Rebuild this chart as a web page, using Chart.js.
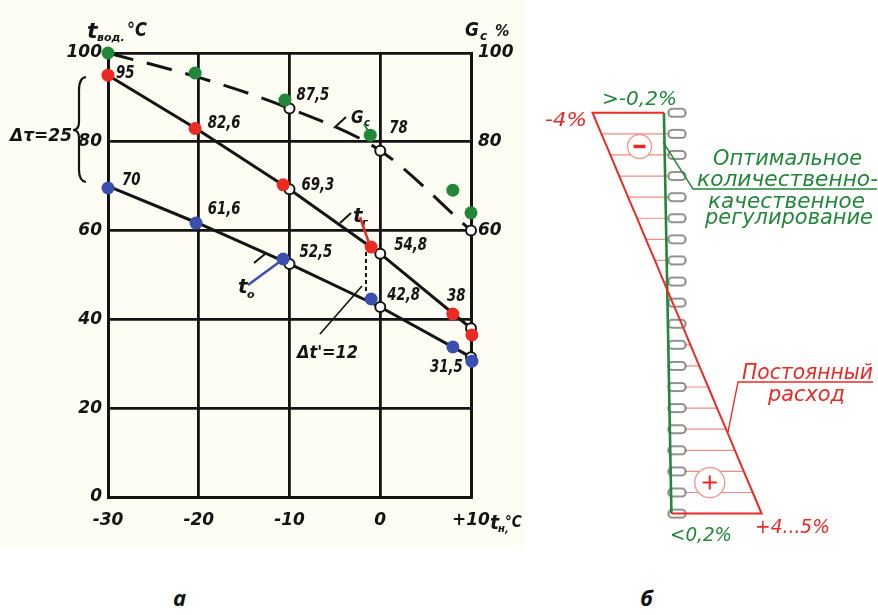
<!DOCTYPE html>
<html>
<head>
<meta charset="utf-8">
<script src="https://cdn.jsdelivr.net/npm/chart.js@4.4.0/dist/chart.umd.min.js"></script>
<style>
  body { margin: 0; background: #fff; width: 878px; height: 615px; position: relative; overflow: hidden; }
  #wrapA { position: absolute; left: 0; top: 0; width: 540px; height: 560px; }
  #bgA { position: absolute; left: 0; top: 0; width: 524px; height: 546px; background: #fdfdf4; }
  #wrapB { position: absolute; left: 540px; top: 60px; width: 338px; height: 500px; }
  .cap { position: absolute; top: 582px; font: italic bold 22px "Open Sans", "DejaVu Sans", sans-serif; color: #111; }
</style>
</head>
<body>
<div id="bgA"></div>
<div id="wrapA"><canvas id="chartA"></canvas></div>
<div id="wrapB"><canvas id="chartB"></canvas></div>
<div class="cap" style="left:173px">а</div>
<div class="cap" style="left:640px">б</div>

<script>
// ---- chart a: temperature graph ----
const outdoorTemps = [-30, -20, -10, 0, 10];
const xTickLabels = ['-30', '-20', '-10', '0', '+10'];
const leftTicks = [0, 20, 40, 60, 80, 100];
const rightTicks = [60, 80, 100];
const supplyTemp = [95, 82.6, 69.3, 54.8, 38];     // tг
const returnTemp = [70, 61.6, 52.5, 42.8, 31.5];   // tо
const flowRate = [100, 94.5, 87.5, 78, 60];        // Gc, %

// coloured markers
const redDotX = [-30, -20.4, -10.7, -1.0, 8.0, 10.1];
const redDotY = [95, 83.0, 70.3, 56.3, 41.2, 36.5];
const blueDotX = [-30, -20.3, -10.7, -1.0, 8.0, 10.1];
const blueDotY = [69.6, 61.7, 53.6, 44.6, 33.8, 30.6];
const greenDotX = [-30, -20.4, -10.5, -1.1, 8.0, 10.0];
const greenDotY = [100, 95.5, 89.4, 81.5, 69.1, 64.0];

// ---- chart б: deviation by floor, % ----
const floors = [1, 2, 3, 4, 5, 6, 7, 8, 9, 10, 11, 12, 13, 14, 15, 16, 17, 18, 19, 20];
const constFlowDev = [5.0, 4.53, 4.05, 3.58, 3.11, 2.63, 2.16, 1.68, 1.21, 0.74,
  0.26, -0.21, -0.68, -1.16, -1.63, -2.11, -2.58, -3.05, -3.53, -4.0];
const optimalFloors = [1, 20];
const optimalDev = [0.2, -0.2];

const INK = '#141414';
const RED = '#ec2a23';
const BLUE = '#3a4fae';
const GREEN = '#23873a';
const NUMFONT = 'italic bold 18px "DejaVu Sans", sans-serif';

function pts(xs, ys) { return xs.map((x, i) => ({ x: x, y: ys[i] })); }
function fmt(v) { return String(v).replace('.', ','); }

function drawText(ctx, text, x, y, o) {
  ctx.save();
  ctx.font = o.font;
  ctx.fillStyle = o.color || INK;
  ctx.textBaseline = o.baseline || 'alphabetic';
  ctx.textAlign = 'left';
  const w = ctx.measureText(text).width;
  const sx = o.width ? o.width / w : (o.sx || 1);
  ctx.translate(x, y);
  ctx.scale(sx, 1);
  ctx.fillText(text, 0, 0);
  ctx.restore();
}
function line(ctx, p, color, width, dash) {
  ctx.save();
  ctx.strokeStyle = color; ctx.lineWidth = width;
  ctx.setLineDash(dash || []);
  ctx.beginPath();
  ctx.moveTo(p[0], p[1]);
  for (let i = 2; i < p.length; i += 2) ctx.lineTo(p[i], p[i + 1]);
  ctx.stroke();
  ctx.restore();
}

const labelOffsets = [
  { s: supplyTemp, i: 0, dx: 8, dy: -2 },
  { s: supplyTemp, i: 1, dx: 9, dy: -7 },
  { s: supplyTemp, i: 2, dx: 12, dy: -4 },
  { s: supplyTemp, i: 3, dx: 14, dy: -8 },
  { s: supplyTemp, i: 4, dx: -24, dy: -32 },
  { s: returnTemp, i: 0, dx: 14, dy: -6 },
  { s: returnTemp, i: 1, dx: 9, dy: -14 },
  { s: returnTemp, i: 2, dx: 10, dy: -12 },
  { s: returnTemp, i: 3, dx: 7, dy: -12 },
  { s: returnTemp, i: 4, dx: -41, dy: 10 },
  { s: flowRate, i: 2, dx: 7, dy: -13 },
  { s: flowRate, i: 3, dx: 9, dy: -22 }
];

const notesA = {
  id: 'notesA',
  afterDatasetsDraw(chart) {
    const ctx = chart.ctx;
    const xs = chart.scales.x, ys = chart.scales.y;
    labelOffsets.forEach(l => {
      const px = xs.getPixelForValue(outdoorTemps[l.i]);
      const py = ys.getPixelForValue(l.s[l.i]);
      drawText(ctx, fmt(l.s[l.i]), px + l.dx, py + l.dy, { font: NUMFONT, sx: 0.74, baseline: 'middle' });
    });
    // axis captions
    drawText(ctx, 't', 87, 38, { font: 'italic bold 22px "DejaVu Sans"' });
    drawText(ctx, 'вод.', 97, 41, { font: 'italic bold 11px "DejaVu Sans"' });
    drawText(ctx, '°C', 127, 36, { font: 'italic bold 19px "DejaVu Sans"', sx: 0.85 });
    drawText(ctx, 'G', 465, 36, { font: 'italic bold 20px "DejaVu Sans"', sx: 0.85 });
    drawText(ctx, 'c', 480, 40, { font: 'italic bold 12px "DejaVu Sans"' });
    drawText(ctx, '%', 495, 36, { font: 'italic bold 16px "DejaVu Sans"', sx: 0.9 });
    drawText(ctx, 't', 490, 529, { font: 'italic bold 19px "DejaVu Sans"' });
    drawText(ctx, 'н,', 498, 532, { font: 'italic bold 10px "DejaVu Sans"' });
    drawText(ctx, '°C', 505, 527, { font: 'italic bold 16px "DejaVu Sans"', sx: 0.85 });
    // curve names
    drawText(ctx, 't', 353, 222, { font: 'italic bold 20px "DejaVu Sans"' });
    drawText(ctx, 'г', 362, 226, { font: 'italic bold 11px "DejaVu Sans"' });
    drawText(ctx, 't', 238, 293, { font: 'italic bold 20px "DejaVu Sans"' });
    drawText(ctx, 'о', 247, 298, { font: 'italic bold 11px "DejaVu Sans"' });
    drawText(ctx, 'G', 351, 123, { font: 'italic bold 18px "DejaVu Sans"', sx: 0.85 });
    drawText(ctx, 'c', 364, 126, { font: 'italic bold 10px "DejaVu Sans"' });
    line(ctx, [360, 217, 370, 246], RED, 2.5);
    line(ctx, [248, 285, 282, 260], BLUE, 2.5);
    line(ctx, [364, 124, 370, 134], GREEN, 2);
    line(ctx, [340, 223, 351, 213], INK, 2);
    line(ctx, [334, 128, 346, 117], INK, 2);
    line(ctx, [254, 263, 265, 254], INK, 2);
    // dimensions
    drawText(ctx, 'Δτ=25', 10, 141, { font: 'italic bold 17px "DejaVu Sans"', width: 62 });
    ctx.save();
    ctx.strokeStyle = INK; ctx.lineWidth = 2.2;
    ctx.beginPath();
    ctx.moveTo(86, 77);
    ctx.quadraticCurveTo(79, 78, 79, 90);
    ctx.lineTo(79, 122);
    ctx.quadraticCurveTo(79, 130, 73, 130);
    ctx.quadraticCurveTo(79, 130, 79, 138);
    ctx.lineTo(79, 170);
    ctx.quadraticCurveTo(79, 181, 86, 182);
    ctx.stroke();
    ctx.restore();
    line(ctx, [366, 252, 366, 293], INK, 2, [4, 3]);
    line(ctx, [320, 334, 362, 286], INK, 1.6);
    drawText(ctx, "Δt'=12", 297, 358, { font: 'italic bold 17px "DejaVu Sans"', width: 61 });
  }
};

const lineStyle = {
  borderColor: INK, borderWidth: 3, pointBackgroundColor: '#fff',
  pointBorderColor: INK, pointBorderWidth: 2, pointRadius: [0, 0, 5, 5, 5], yAxisID: 'y', clip: false
};
const dotStyle = { showLine: false, pointRadius: 6.5, pointBorderWidth: 0, yAxisID: 'y', clip: false };
const tickFont = { family: 'DejaVu Sans', size: 17, style: 'italic', weight: 'bold' };

new Chart(document.getElementById('chartA'), {
  type: 'line',
  data: {
    datasets: [
      Object.assign({ label: 'green', data: pts(greenDotX, greenDotY), backgroundColor: GREEN, order: 0 }, dotStyle),
      Object.assign({ label: 'red', data: pts(redDotX, redDotY), backgroundColor: RED, order: 0 }, dotStyle),
      Object.assign({ label: 'blue', data: pts(blueDotX, blueDotY), backgroundColor: BLUE, order: 0 }, dotStyle),
      Object.assign({ label: 'tг', data: pts(outdoorTemps, supplyTemp), order: 2 }, lineStyle),
      Object.assign({ label: 'tо', data: pts(outdoorTemps, returnTemp), order: 2 }, lineStyle),
      Object.assign({ label: 'Gc', data: pts(outdoorTemps, flowRate), order: 1, borderDash: [26, 14],
        cubicInterpolationMode: 'monotone' }, lineStyle)
    ]
  },
  options: {
    responsive: true,
    maintainAspectRatio: false,
    animation: false,
    layout: { autoPadding: false, padding: { left: 48, right: 19, top: 53, bottom: 18 } },
    plugins: { legend: { display: false }, tooltip: { enabled: false } },
    scales: {
      x: {
        type: 'linear', min: -30, max: 10,
        afterBuildTicks: s => { s.ticks = outdoorTemps.map(v => ({ value: v })); },
        afterFit: s => { s.height = 45; },
        ticks: { callback: v => xTickLabels[outdoorTemps.indexOf(v)], color: INK, font: tickFont, padding: 13, maxRotation: 0 },
        grid: { color: INK, lineWidth: 2.8, drawTicks: false },
        border: { color: INK, width: 3 }
      },
      y: {
        min: 0, max: 100,
        afterBuildTicks: s => { s.ticks = leftTicks.map(v => ({ value: v })); },
        afterFit: s => { s.width = 60; },
        ticks: { color: INK, font: tickFont, padding: 6 },
        grid: { color: INK, lineWidth: 2.8, drawTicks: false },
        border: { color: INK, width: 3 }
      },
      y2: {
        position: 'right', min: 0, max: 100,
        afterBuildTicks: s => { s.ticks = rightTicks.map(v => ({ value: v })); },
        afterFit: s => { s.width = 50; },
        ticks: { color: INK, font: tickFont, padding: 7 },
        grid: { display: false, drawTicks: false },
        border: { color: INK, width: 3 }
      }
    }
  },
  plugins: [notesA]
});

// ---- chart б ----
const radiator = document.createElement('canvas');
radiator.width = 22; radiator.height = 12;
(function () {
  const c = radiator.getContext('2d');
  const x = 2, y = 2, w = 17, h = 8, r = 3.5;
  c.beginPath();
  c.moveTo(x + r, y);
  c.arcTo(x + w, y, x + w, y + h, r);
  c.arcTo(x + w, y + h, x, y + h, r);
  c.arcTo(x, y + h, x, y, r);
  c.arcTo(x, y, x + w, y, r);
  c.closePath();
  c.fillStyle = '#fff'; c.fill();
  c.strokeStyle = '#6f6f6f'; c.lineWidth = 1.7; c.stroke();
})();

const hatch = [];
floors.forEach((f, i) => {
  if (i === 0 || i === floors.length - 1) return;
  hatch.push({ x: constFlowDev[i], y: f }, { x: 0, y: f }, { x: null, y: null });
});
const outline = [{ x: optimalDev[1], y: optimalFloors[1] }]
  .concat(floors.map((f, i) => ({ x: constFlowDev[i], y: f })).reverse())
  .concat([{ x: optimalDev[0], y: optimalFloors[0] }]);

const notesB = {
  id: 'notesB',
  afterDatasetsDraw(chart) {
    const ctx = chart.ctx;
    const ox = -540, oy = -60;  // page -> canvas
    const gf = 'italic 21px "DejaVu Sans", sans-serif';
    drawText(ctx, '-4%', 545 + ox, 126 + oy, { font: 'italic 20px "DejaVu Sans"', color: RED, width: 42 });
    drawText(ctx, '>-0,2%', 602 + ox, 105 + oy, { font: 'italic 19px "DejaVu Sans"', color: GREEN, width: 75 });
    drawText(ctx, 'Оптимальное', 713 + ox, 165 + oy, { font: gf, color: GREEN, width: 149 });
    drawText(ctx, 'количественно-', 697 + ox, 186 + oy, { font: gf, color: GREEN, width: 181 });
    drawText(ctx, 'качественное', 708 + ox, 208 + oy, { font: gf, color: GREEN, width: 157 });
    drawText(ctx, 'регулирование', 705 + ox, 224 + oy, { font: gf, color: GREEN, width: 168 });
    line(ctx, [663 + ox, 142 + oy, 693 + ox, 189 + oy, 877 + ox, 189 + oy], GREEN, 1.4);
    drawText(ctx, 'Постоянный', 742 + ox, 379 + oy, { font: gf, color: RED, width: 131 });
    drawText(ctx, 'расход', 768 + ox, 401 + oy, { font: gf, color: RED, width: 77 });
    line(ctx, [873 + ox, 382 + oy, 738 + ox, 382 + oy, 728 + ox, 432 + oy], RED, 1.3);
    drawText(ctx, '<0,2%', 670 + ox, 541 + oy, { font: 'italic 19px "DejaVu Sans"', color: GREEN, width: 62 });
    drawText(ctx, '+4...5%', 755 + ox, 533 + oy, { font: 'italic 19px "DejaVu Sans"', color: RED, width: 75 });
  }
};

new Chart(document.getElementById('chartB'), {
  type: 'scatter',
  data: {
    datasets: [
      { label: 'minus', data: [{ x: -1.5, y: 18.4 }], pointStyle: 'line', pointRadius: 6, borderColor: RED, pointBorderWidth: 3.5, order: 0 },
      { label: 'plus', data: [{ x: 2.24, y: 2.47 }], pointStyle: 'cross', pointRadius: 7, borderColor: RED, pointBorderWidth: 2, order: 0 },
      { label: 'signs', data: [{ x: -1.5, y: 18.4 }], pointRadius: 12, backgroundColor: '#fff', borderColor: '#f39a93', pointBorderWidth: 1.4, order: 1 },
      { label: 'signs2', data: [{ x: 2.24, y: 2.47 }], pointRadius: 15, backgroundColor: '#fff', borderColor: '#f39a93', pointBorderWidth: 1.4, order: 1 },
      { label: 'Постоянный расход', data: outline, showLine: true, borderColor: RED, borderWidth: 2, pointRadius: 0, order: 2 },
      { label: 'Оптимальное', data: pts(optimalDev, optimalFloors), showLine: true, borderColor: GREEN, borderWidth: 2.6, pointRadius: 0, order: 3 },
      { label: 'radiators', data: floors.map(f => ({ x: 0.52, y: f })), pointStyle: radiator, order: 4 },
      { label: 'hatch', data: hatch, showLine: true, spanGaps: false, borderColor: '#f48a82', borderWidth: 1.2, pointRadius: 0, order: 5 }
    ]
  },
  options: {
    responsive: true,
    maintainAspectRatio: false,
    animation: false,
    layout: { autoPadding: false, padding: 0 },
    plugins: { legend: { display: false }, tooltip: { enabled: false } },
    scales: {
      x: { type: 'linear', min: -6.8, max: 11.2, display: false },
      y: { type: 'linear', min: -1.2, max: 22.5, display: false }
    }
  },
  plugins: [notesB]
});
</script>
</body>
</html>
